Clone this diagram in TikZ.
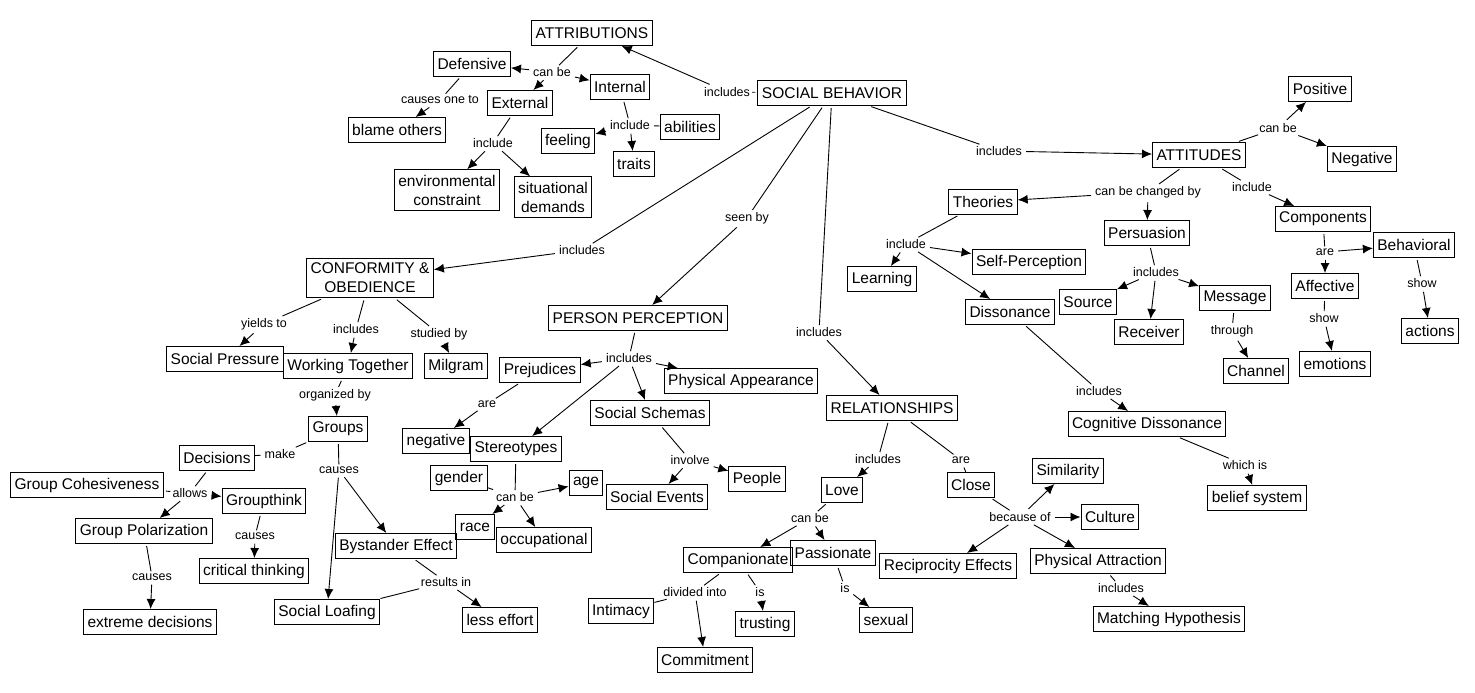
\documentclass[tikz,border=0pt]{standalone}
\usepackage{fontspec}
\setmainfont{Liberation Sans}
\usetikzlibrary{arrows.meta}
\tikzset{
  concept/.style={draw, line width=1pt, align=center, inner xsep=4pt, inner ysep=5pt, minimum height=25pt, font=\fontsize{15.5}{19}\selectfont},
  linkword/.style={inner sep=2pt, font=\fontsize{12.5}{14}\selectfont},
  bare/.style={line width=0.9pt, shorten <=2pt},
  arrowto/.style={bare, -{Latex[length=10pt,width=9pt]}}
}
\begin{document}
\begin{tikzpicture}[x=1pt,y=-1pt]
            \useasboundingbox (0,0) rectangle (1475,693);
            \node[concept] (socbeh) at (832,93) {SOCIAL BEHAVIOR};
            \node[concept] (attrib) at (592,33) {ATTRIBUTIONS};
            \node[concept] (defens) at (472,64) {Defensive};
            \node[concept] (intern) at (620,87) {Internal};
            \node[concept] (extern) at (520,103) {External};
            \node[concept] (blame) at (397,130) {blame others};
            \node[concept] (feeling) at (568,141) {feeling};
            \node[concept] (abilit) at (690,127) {abilities};
            \node[concept] (traits) at (634,164) {traits};
            \node[concept] (envcon) at (447,190) {environmental\\constraint};
            \node[concept] (sitdem) at (553,197) {situational\\demands};
            \node[concept] (attit) at (1199,155) {ATTITUDES};
            \node[concept] (posit) at (1320,89) {Positive};
            \node[concept] (negat) at (1362,159) {Negative};
            \node[concept] (theor) at (983,202) {Theories};
            \node[concept] (persua) at (1147,233) {Persuasion};
            \node[concept] (compon) at (1323,219) {Components};
            \node[concept] (behav) at (1414,245) {Behavioral};
            \node[concept] (selfp) at (1029,262) {Self-Perception};
            \node[concept] (learn) at (882,279) {Learning};
            \node[concept] (disson) at (1010,312) {Dissonance};
            \node[concept] (source) at (1088,302) {Source};
            \node[concept] (receiv) at (1149,332) {Receiver};
            \node[concept] (messag) at (1235,298) {Message};
            \node[concept] (affect) at (1325,286) {Affective};
            \node[concept] (action) at (1430,331) {actions};
            \node[concept] (channel) at (1256,371) {Channel};
            \node[concept] (emotion) at (1335,364) {emotions};
            \node[concept] (cogdis) at (1147,424) {Cognitive Dissonance};
            \node[concept] (belief) at (1257,498) {belief system};
            \node[concept] (conform) at (370,278) {CONFORMITY \&\\OBEDIENCE};
            \node[concept] (socpres) at (225,359) {Social Pressure};
            \node[concept] (worktog) at (348,366) {Working Together};
            \node[concept] (milgram) at (456,366) {Milgram};
            \node[concept] (groups) at (338,429) {Groups};
            \node[concept] (decis) at (217,458) {Decisions};
            \node[concept] (cohes) at (87,485) {Group Cohesiveness};
            \node[concept] (gthink) at (264,501) {Groupthink};
            \node[concept] (gpolar) at (144,531) {Group Polarization};
            \node[concept] (critic) at (254,571) {critical thinking};
            \node[concept] (extreme) at (150,622) {extreme decisions};
            \node[concept] (bystand) at (396,546) {Bystander Effect};
            \node[concept] (loafing) at (327,612) {Social Loafing};
            \node[concept] (lesseff) at (500,620) {less effort};
            \node[concept] (perper) at (638,318) {PERSON PERCEPTION};
            \node[concept] (prejud) at (540,370) {Prejudices};
            \node[concept] (physap) at (741,381) {Physical Appearance};
            \node[concept] (schemas) at (650,413) {Social Schemas};
            \node[concept] (negtv) at (436,441) {negative};
            \node[concept] (stereo) at (516,449) {Stereotypes};
            \node[concept] (gender) at (459,478) {gender};
            \node[concept] (age) at (586,483) {age};
            \node[concept] (race) at (475,527) {race};
            \node[concept] (occup) at (544,540) {occupational};
            \node[concept] (events) at (657,497) {Social Events};
            \node[concept] (people) at (757,479) {People};
            \node[concept] (relat) at (892,408) {RELATIONSHIPS};
            \node[concept] (love) at (842,490) {Love};
            \node[concept] (close) at (971,485) {Close};
            \node[concept] (simil) at (1068,471) {Similarity};
            \node[concept] (culture) at (1110,517) {Culture};
            \node[concept] (compan) at (738,560) {Companionate};
            \node[concept] (passion) at (833,553) {Passionate};
            \node[concept] (recip) at (948,566) {Reciprocity Effects};
            \node[concept] (physat) at (1098,561) {Physical Attraction};
            \node[concept] (intim) at (621,611) {Intimacy};
            \node[concept] (trust) at (765,624) {trusting};
            \node[concept] (sexual) at (886,620) {sexual};
            \node[concept] (commit) at (705,660) {Commitment};
            \node[concept] (match) at (1169,619) {Matching Hypothesis};

            \node[linkword] (lsb1) at (727,92) {includes};
            \node[linkword] (lattr) at (552,72) {can be};
            \node[linkword] (ldef) at (440,100) {causes one to};
            \node[linkword] (lext) at (493,143) {include};
            \node[linkword] (lint) at (630,125) {include};
            \node[linkword] (lsb2) at (999,151) {includes};
            \node[linkword] (latt1) at (1278,128) {can be};
            \node[linkword] (latt2) at (1148,192) {can be changed by};
            \node[linkword] (latt3) at (1252,187) {include};
            \node[linkword] (lcomp) at (1325,252) {are};
            \node[linkword] (lbeh) at (1422,283) {show};
            \node[linkword] (laff) at (1324,318) {show};
            \node[linkword] (lthe) at (906,244) {include};
            \node[linkword] (lper) at (1156,272) {includes};
            \node[linkword] (lmes) at (1232,331) {through};
            \node[linkword] (ldis) at (1099,391) {includes};
            \node[linkword] (lcog) at (1245,465) {which is};
            \node[linkword] (lsb3) at (582,250) {includes};
            \node[linkword] (lsb4) at (747,218) {seen by};
            \node[linkword] (lsb5) at (819,332) {includes};
            \node[linkword] (lcon1) at (264,324) {yields to};
            \node[linkword] (lcon2) at (356,329) {includes};
            \node[linkword] (lcon3) at (439,334) {studied by};
            \node[linkword] (lwork) at (335,395) {organized by};
            \node[linkword] (lgrp1) at (280,454) {make};
            \node[linkword] (lgrp2) at (339,470) {causes};
            \node[linkword] (ldec) at (190,493) {allows};
            \node[linkword] (lgth) at (255,536) {causes};
            \node[linkword] (lgpo) at (152,577) {causes};
            \node[linkword] (lbys) at (446,582) {results in};
            \node[linkword] (lpre) at (487,404) {are};
            \node[linkword] (lpp) at (629,358) {includes};
            \node[linkword] (lste) at (515,497) {can be};
            \node[linkword] (lsch) at (690,460) {involve};
            \node[linkword] (lrel1) at (878,459) {includes};
            \node[linkword] (lrel2) at (961,460) {are};
            \node[linkword] (llove) at (810,518) {can be};
            \node[linkword] (lclo) at (1020,517) {because of};
            \node[linkword] (lcom1) at (695,592) {divided into};
            \node[linkword] (lcom2) at (760,592) {is};
            \node[linkword] (lpas) at (845,588) {is};
            \node[linkword] (lphy) at (1121,588) {includes};

            \draw[bare] (socbeh) -- (lsb1);
            \draw[arrowto] (lsb1) -- (attrib);
            \draw[bare] (attrib) -- (lattr);
            \draw[arrowto] (lattr) -- (defens);
            \draw[arrowto] (lattr) -- (extern);
            \draw[arrowto] (lattr) -- (intern);
            \draw[bare] (defens) -- (ldef);
            \draw[arrowto] (ldef) -- (blame);
            \draw[bare] (extern) -- (lext);
            \draw[arrowto] (lext) -- (envcon);
            \draw[arrowto] (lext) -- (sitdem);
            \draw[bare] (intern) -- (lint);
            \draw[arrowto] (lint) -- (feeling);
            \draw[arrowto] (lint) -- (traits);
            \draw[bare] (lint) -- (abilit);
            \draw[bare] (socbeh) -- (lsb2);
            \draw[arrowto] (lsb2) -- (attit);
            \draw[bare] (attit) -- (latt1);
            \draw[arrowto] (latt1) -- (posit);
            \draw[arrowto] (latt1) -- (negat);
            \draw[bare] (attit) -- (latt2);
            \draw[arrowto] (latt2) -- (theor);
            \draw[arrowto] (latt2) -- (persua);
            \draw[bare] (attit) -- (latt3);
            \draw[arrowto] (latt3) -- (compon);
            \draw[bare] (compon) -- (lcomp);
            \draw[arrowto] (lcomp) -- (behav);
            \draw[arrowto] (lcomp) -- (affect);
            \draw[bare] (behav) -- (lbeh);
            \draw[arrowto] (lbeh) -- (action);
            \draw[bare] (affect) -- (laff);
            \draw[arrowto] (laff) -- (emotion);
            \draw[bare] (theor) -- (lthe);
            \draw[arrowto] (lthe) -- (learn);
            \draw[arrowto] (lthe) -- (selfp);
            \draw[arrowto] (lthe) -- (disson);
            \draw[bare] (persua) -- (lper);
            \draw[arrowto] (lper) -- (source);
            \draw[arrowto] (lper) -- (receiv);
            \draw[arrowto] (lper) -- (messag);
            \draw[bare] (messag) -- (lmes);
            \draw[arrowto] (lmes) -- (channel);
            \draw[bare] (disson) -- (ldis);
            \draw[arrowto] (ldis) -- (cogdis);
            \draw[bare] (cogdis) -- (lcog);
            \draw[arrowto] (lcog) -- (belief);
            \draw[bare] (socbeh) -- (lsb3);
            \draw[arrowto] (lsb3) -- (conform);
            \draw[bare] (socbeh) -- (lsb4);
            \draw[arrowto] (lsb4) -- (perper);
            \draw[bare] (socbeh) -- (lsb5);
            \draw[arrowto] (lsb5) -- (relat);
            \draw[bare] (conform) -- (lcon1);
            \draw[arrowto] (lcon1) -- (socpres);
            \draw[bare] (conform) -- (lcon2);
            \draw[arrowto] (lcon2) -- (worktog);
            \draw[bare] (conform) -- (lcon3);
            \draw[arrowto] (lcon3) -- (milgram);
            \draw[bare] (worktog) -- (lwork);
            \draw[arrowto] (lwork) -- (groups);
            \draw[bare] (groups) -- (lgrp1);
            \draw[bare] (lgrp1) -- (decis);
            \draw[bare] (groups) -- (lgrp2);
            \draw[arrowto] (lgrp2) -- (loafing);
            \draw[arrowto] (lgrp2) -- (bystand);
            \draw[bare] (decis) -- (ldec);
            \draw[bare] (cohes) -- (ldec);
            \draw[arrowto] (ldec) -- (gthink);
            \draw[arrowto] (ldec) -- (gpolar);
            \draw[bare] (gthink) -- (lgth);
            \draw[arrowto] (lgth) -- (critic);
            \draw[bare] (gpolar) -- (lgpo);
            \draw[arrowto] (lgpo) -- (extreme);
            \draw[bare] (bystand) -- (lbys);
            \draw[bare] (loafing) -- (lbys);
            \draw[arrowto] (lbys) -- (lesseff);
            \draw[bare] (perper) -- (lpp);
            \draw[arrowto] (lpp) -- (prejud);
            \draw[arrowto] (lpp) -- (physap);
            \draw[arrowto] (lpp) -- (schemas);
            \draw[arrowto] (lpp) -- (stereo);
            \draw[bare] (prejud) -- (lpre);
            \draw[arrowto] (lpre) -- (negtv);
            \draw[bare] (stereo) -- (lste);
            \draw[bare] (lste) -- (gender);
            \draw[arrowto] (lste) -- (age);
            \draw[arrowto] (lste) -- (race);
            \draw[arrowto] (lste) -- (occup);
            \draw[bare] (schemas) -- (lsch);
            \draw[arrowto] (lsch) -- (events);
            \draw[arrowto] (lsch) -- (people);
            \draw[bare] (relat) -- (lrel1);
            \draw[arrowto] (lrel1) -- (love);
            \draw[bare] (relat) -- (lrel2);
            \draw[bare] (lrel2) -- (close);
            \draw[bare] (love) -- (llove);
            \draw[arrowto] (llove) -- (compan);
            \draw[arrowto] (llove) -- (passion);
            \draw[bare] (close) -- (lclo);
            \draw[arrowto] (lclo) -- (simil);
            \draw[arrowto] (lclo) -- (culture);
            \draw[arrowto] (lclo) -- (recip);
            \draw[arrowto] (lclo) -- (physat);
            \draw[bare] (compan) -- (lcom1);
            \draw[bare] (lcom1) -- (intim);
            \draw[arrowto] (lcom1) -- (commit);
            \draw[bare] (compan) -- (lcom2);
            \draw[arrowto] (lcom2) -- (trust);
            \draw[bare] (passion) -- (lpas);
            \draw[arrowto] (lpas) -- (sexual);
            \draw[bare] (physat) -- (lphy);
            \draw[arrowto] (lphy) -- (match);
\end{tikzpicture}
\end{document}
